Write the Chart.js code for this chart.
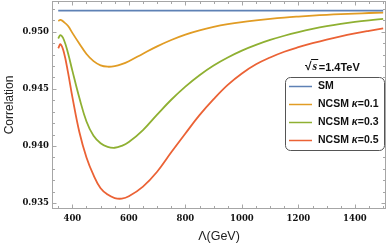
<!DOCTYPE html>
<html>
<head>
<meta charset="utf-8">
<script src="https://cdn.jsdelivr.net/npm/chart.js@4.4.1/dist/chart.umd.min.js"></script>
<style>
    body { margin: 0; background: #fff; }
    #wrap { width: 390px; height: 248px; position: relative; }
</style>
</head>
<body>
<div id="wrap"><canvas id="corrChart"></canvas></div>
<script>
// Lambda (GeV) sample points
const lambda = [350, 358, 370, 385, 400, 425, 450, 475, 500, 525, 550, 575, 600, 650, 700, 750,
    800, 850, 900, 950, 1000, 1050, 1100, 1150, 1200, 1250, 1300, 1350, 1400, 1450, 1500];

const smLambda = [350, 1500];
const smCorr = [0.95184, 0.95184];

const kappa01 = [0.95095, 0.95103, 0.95085, 0.9505, 0.9499, 0.94895, 0.94805, 0.94743, 0.94706, 0.94694,
    0.94699, 0.94716, 0.94742, 0.94808, 0.94872, 0.94928, 0.94975, 0.95012, 0.95042, 0.95066, 0.95085,
    0.95100, 0.95113, 0.95124, 0.95133, 0.95141, 0.95148, 0.95154, 0.95159, 0.95164, 0.95168];

const kappa03 = [0.9494, 0.9497, 0.9493, 0.9481, 0.9466, 0.9442, 0.94215, 0.9409, 0.94025, 0.93993,
    0.93985, 0.94002, 0.94035, 0.9414, 0.94275, 0.94405, 0.9452, 0.9462, 0.94705, 0.94775, 0.94835,
    0.94885, 0.94928, 0.94965, 0.94997, 0.95025, 0.95049, 0.95069, 0.95086, 0.95100, 0.95112];

const kappa05 = [0.94855, 0.9489, 0.9482, 0.9464, 0.9443, 0.9412, 0.9390, 0.93745, 0.9363, 0.93575,
    0.93545, 0.9354, 0.9356, 0.93645, 0.93775, 0.93945, 0.9411, 0.9427, 0.9441, 0.94535, 0.94635,
    0.94715, 0.94775, 0.94825, 0.94865, 0.94900, 0.94932, 0.94960, 0.94985, 0.95008, 0.95030];

const seriesLabels = ['SM', 'NCSM κ=0.1', 'NCSM κ=0.3', 'NCSM κ=0.5'];
const seriesColors = ['#5E81B5', '#E19C24', '#8FB032', '#EB6235'];

const xTicks = [400, 600, 800, 1000, 1200, 1400];
const yTicks = [0.935, 0.940, 0.945, 0.950];
const xMinorStep = 50;
const yMinorStep = 0.001;

const energyNote = '1.4TeV';

function pairs(xs, ys) {
    return xs.map((x, i) => ({ x: x, y: ys[i] }));
}

const frameColor = '#a6a6a6';

// frame on all four sides with inward ticks, Mathematica style
const framePlugin = {
    id: 'frame',
    beforeDatasetsDraw(chart) {
        const { ctx, chartArea: a, scales: { x, y } } = chart;
        const L = Math.round(a.left) + 0.5, R = Math.round(a.right) - 0.5;
        const T = Math.round(a.top) + 0.5, B = Math.round(a.bottom) - 0.5;
        ctx.save();
        ctx.strokeStyle = frameColor;
        ctx.lineWidth = 1;
        ctx.strokeRect(L, T, R - L, B - T);
        ctx.beginPath();
        const major = 4, minor = 2.5;
        for (let v = Math.ceil(x.min / xMinorStep) * xMinorStep; v <= x.max; v += xMinorStep) {
            const len = xTicks.includes(v) ? major : minor;
            const px = Math.round(x.getPixelForValue(v)) + 0.5;
            ctx.moveTo(px, B); ctx.lineTo(px, B - len);
            ctx.moveTo(px, T); ctx.lineTo(px, T + len);
        }
        for (let k = Math.ceil(y.min / yMinorStep); k * yMinorStep <= y.max; k++) {
            const v = k * yMinorStep;
            const isMajor = yTicks.some(t => Math.abs(t - v) < 1e-7);
            const len = isMajor ? major : minor;
            const py = Math.round(y.getPixelForValue(v)) + 0.5;
            ctx.moveTo(L, py); ctx.lineTo(L + len, py);
            ctx.moveTo(R, py); ctx.lineTo(R - len, py);
        }
        ctx.stroke();
        ctx.restore();
    }
};

// boxed legend and the energy note inside the plot
const legendPlugin = {
    id: 'boxLegend',
    afterDatasetsDraw(chart) {
        const { ctx } = chart;
        const bx = 285.5, by = 77.5, bw = 99, bh = 73;
        ctx.save();
        ctx.fillStyle = '#fff';
        ctx.strokeStyle = '#555';
        ctx.lineWidth = 1;
        ctx.beginPath();
        ctx.roundRect(bx, by, bw, bh, 5);
        ctx.fill();
        ctx.stroke();

        ctx.textBaseline = 'middle';
        chart.data.datasets.forEach((ds, i) => {
            const yy = 86.5 + i * 18;
            ctx.strokeStyle = ds.borderColor;
            ctx.lineWidth = 1.5;
            ctx.beginPath();
            ctx.moveTo(289, yy); ctx.lineTo(312, yy);
            ctx.stroke();
            let tx = 318;
            ctx.fillStyle = '#111';
            for (const ch of ds.label) {
                ctx.font = (ch === 'κ' ? 'italic ' : '') + 'bold 10.5px "Liberation Sans", Arial, sans-serif';
                ctx.fillText(ch, tx, yy);
                tx += ctx.measureText(ch).width;
            }
        });

        // sqrt(s) = 1.4TeV
        ctx.fillStyle = '#111';
        ctx.strokeStyle = '#111';
        const ny = 67;
        let nx = 305;
        ctx.font = 'bold 12px "Liberation Sans", Arial, sans-serif';
        ctx.fillText('√', nx, ny);
        nx += ctx.measureText('√').width;
        ctx.font = 'italic bold 12px "Liberation Serif", serif';
        const sw = ctx.measureText('s').width;
        ctx.fillText('s', nx + 1, ny);
        ctx.lineWidth = 1;
        ctx.beginPath();
        ctx.moveTo(nx - 0.5, ny - 7.5); ctx.lineTo(nx + sw + 2, ny - 7.5);
        ctx.stroke();
        nx += sw + 2.5;
        ctx.font = 'bold 11px "Liberation Sans", Arial, sans-serif';
        ctx.fillText('=' + energyNote, nx, ny + 0.5);
        ctx.restore();
    }
};

const ctx = document.getElementById('corrChart').getContext('2d');
const chart = new Chart(ctx, {
    type: 'line',
    data: {
        datasets: [
            { label: seriesLabels[0], data: pairs(smLambda, smCorr) },
            { label: seriesLabels[1], data: pairs(lambda, kappa01) },
            { label: seriesLabels[2], data: pairs(lambda, kappa03) },
            { label: seriesLabels[3], data: pairs(lambda, kappa05) }
        ].map((ds, i) => Object.assign(ds, {
            borderColor: seriesColors[i],
            backgroundColor: seriesColors[i],
            borderWidth: 1.8,
            pointRadius: 0,
            tension: 0.4,
            fill: false
        }))
    },
    options: {
        responsive: true,
        maintainAspectRatio: false,
        animation: false,
        layout: { padding: { top: 1, right: 4, left: 0, bottom: 0 } },
        plugins: {
            legend: { display: false },
            tooltip: { enabled: false }
        },
        scales: {
            x: {
                type: 'linear',
                min: 328,
                max: 1510,
                afterBuildTicks: s => { s.ticks = xTicks.map(v => ({ value: v })); },
                afterFit: s => {
                    s.height = 39;
                    s.paddingLeft = 0;
                    s.paddingRight = 0;
                },
                grid: { display: false, drawTicks: false },
                border: { display: false },
                ticks: {
                    autoSkip: false,
                    maxRotation: 0,
                    padding: 5,
                    color: '#111',
                    callback: v => String(v),
                    font: { family: '"DejaVu Serif", serif', weight: 'bold', size: 8.5 }
                },
                title: {
                    display: true,
                    text: 'Λ(GeV)',
                    color: '#222',
                    padding: { top: 0, bottom: 4 },
                    font: { family: '"Liberation Sans", Arial, sans-serif', size: 12.5 }
                }
            },
            y: {
                type: 'linear',
                min: 0.93449,
                max: 0.95269,
                afterBuildTicks: s => { s.ticks = yTicks.map(v => ({ value: v })); },
                afterFit: s => {
                    s.width = 52;
                    s.paddingTop = 0;
                    s.paddingBottom = 0;
                },
                grid: { display: false, drawTicks: false },
                border: { display: false },
                ticks: {
                    padding: 3,
                    color: '#111',
                    callback: v => v.toFixed(3),
                    font: { family: '"DejaVu Serif", serif', weight: 'bold', size: 8.5 }
                },
                title: {
                    display: true,
                    text: 'Correlation',
                    color: '#222',
                    padding: { top: 2, bottom: 0 },
                    font: { family: '"Liberation Sans", Arial, sans-serif', size: 12 }
                }
            }
        }
    },
    plugins: [framePlugin, legendPlugin]
});
</script>
</body>
</html>
